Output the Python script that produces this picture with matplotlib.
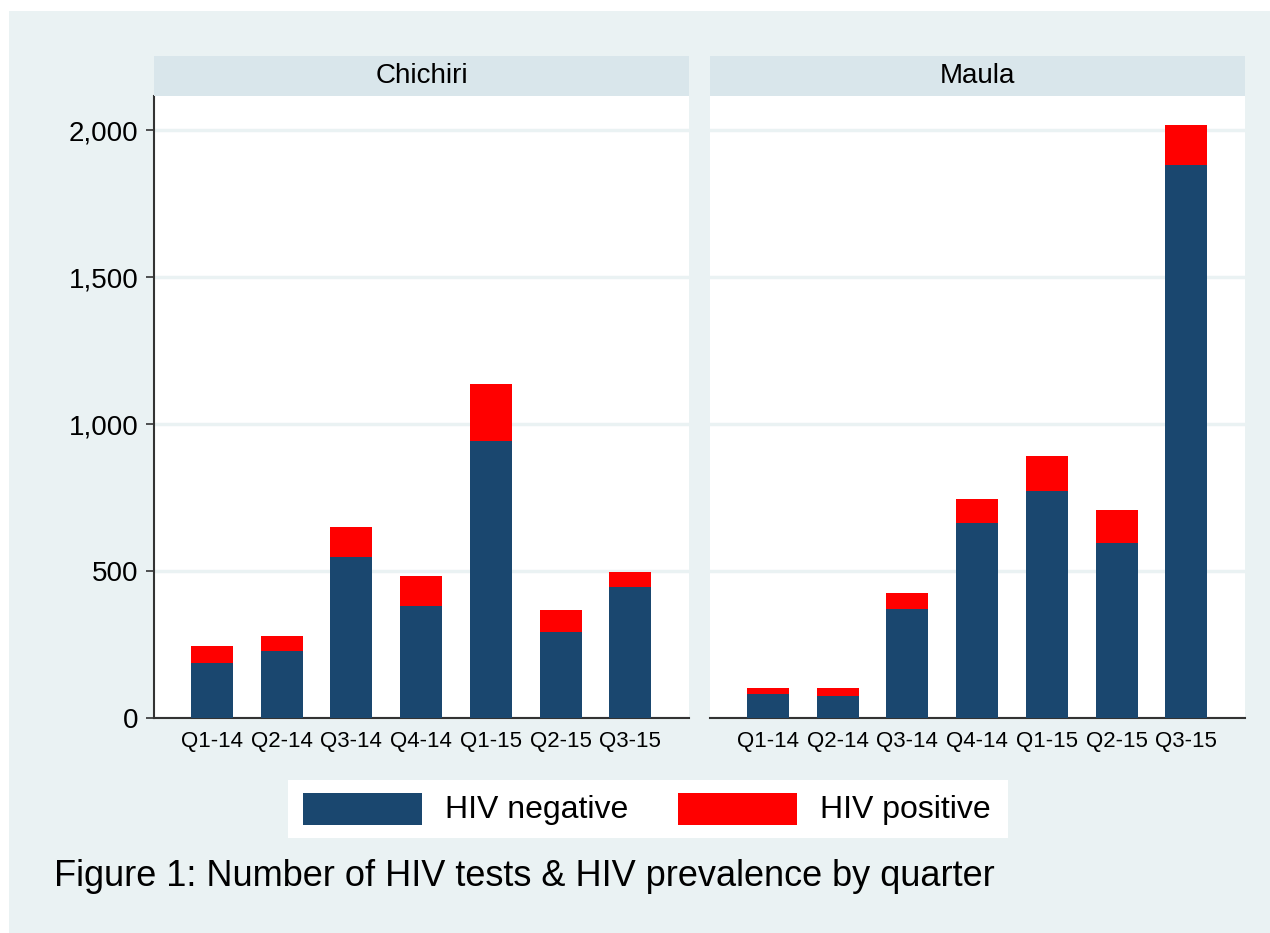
import matplotlib
matplotlib.use('Agg')
import matplotlib.pyplot as plt
from matplotlib.patches import Rectangle
import numpy as np

plt.rcParams['font.family'] = ['Liberation Sans', 'DejaVu Sans']

quarters = ['Q1-14', 'Q2-14', 'Q3-14', 'Q4-14', 'Q1-15', 'Q2-15', 'Q3-15']
sites = ['Chichiri', 'Maula']
negativos = {
    'Chichiri': [188, 228, 548, 381, 943, 294, 446],
    'Maula': [82, 76, 370, 664, 772, 594, 1881],
}
positivos = {
    'Chichiri': [57, 52, 103, 101, 193, 73, 52],
    'Maula': [19, 25, 56, 82, 121, 112, 137],
}
yticks = [0, 500, 1000, 1500, 2000]

NAVY = '#1A476F'
RED = '#FF0000'
FONDO = '#EAF2F3'
FRANJA = '#D9E6EB'

W, H = 1270, 933
fig = plt.figure(figsize=(W / 100, H / 100), dpi=100, facecolor='white')

# fondo del grafico
fig.patches.append(Rectangle((9 / W, 0), 1, (H - 11) / H,
                             transform=fig.transFigure, facecolor=FONDO,
                             edgecolor='none', zorder=-10))

def px_axes(x0, y0, x1, y1):
    return fig.add_axes([x0 / W, (H - y1) / H, (x1 - x0) / W, (y1 - y0) / H])

lefts = [154, 710]
x = np.arange(len(quarters))
for i, site in enumerate(sites):
    x0 = lefts[i]
    ax = px_axes(x0, 96, x0 + 535, 718)
    ax.set_facecolor('white')
    ax.bar(x, negativos[site], width=0.6, color=NAVY, edgecolor='none', zorder=3)
    ax.bar(x, positivos[site], width=0.6, bottom=negativos[site], color=RED,
           edgecolor='none', zorder=3)
    ax.set_xlim(-0.83, 6.84)
    ax.set_ylim(0, 2116)
    ax.set_yticks(yticks)
    ax.grid(axis='y', color=FONDO, linewidth=2.5, zorder=1)
    ax.set_xticks(x)
    ax.set_xticklabels(quarters, fontsize=16)
    ax.tick_params(axis='x', length=0, pad=9)
    for s in ['top', 'right']:
        ax.spines[s].set_visible(False)
    ax.spines['bottom'].set_color('#333333')
    ax.spines['bottom'].set_linewidth(1.5)
    if i == 0:
        ax.set_yticklabels(['{:,}'.format(v) for v in yticks], fontsize=20)
        ax.tick_params(axis='y', length=6, width=1.2, pad=5, color='#333333')
        ax.spines['left'].set_color('#333333')
        ax.spines['left'].set_linewidth(1.5)
    else:
        ax.spines['left'].set_visible(False)
        ax.tick_params(axis='y', length=0, labelleft=False)

    # franja con el nombre
    st = px_axes(x0, 56, x0 + 535, 96)
    st.set_facecolor(FRANJA)
    st.set_xticks([])
    st.set_yticks([])
    for s in st.spines.values():
        s.set_visible(False)
    st.text(0.5, 0.5, site, ha='center', va='center', fontsize=20,
            transform=st.transAxes)

# leyenda
lg = px_axes(288, 780, 1008, 838)
lg.set_facecolor('white')
lg.set_xlim(0, 720)
lg.set_ylim(58, 0)
lg.set_xticks([])
lg.set_yticks([])
for s in lg.spines.values():
    s.set_visible(False)
lg.add_patch(Rectangle((15, 13), 119, 32, facecolor=NAVY, edgecolor='none'))
lg.add_patch(Rectangle((390, 13), 119, 32, facecolor=RED, edgecolor='none'))
lg.text(157, 30, 'HIV negative', fontsize=23, va='center', ha='left')
lg.text(532, 30, 'HIV positive', fontsize=23, va='center', ha='left')

fig.text(54 / W, 1 - 877 / H, 'Figure 1: Number of HIV tests & HIV prevalence by quarter',
         fontsize=26, va='center', ha='left')

fig.savefig('out.png', dpi=100, facecolor='white')
